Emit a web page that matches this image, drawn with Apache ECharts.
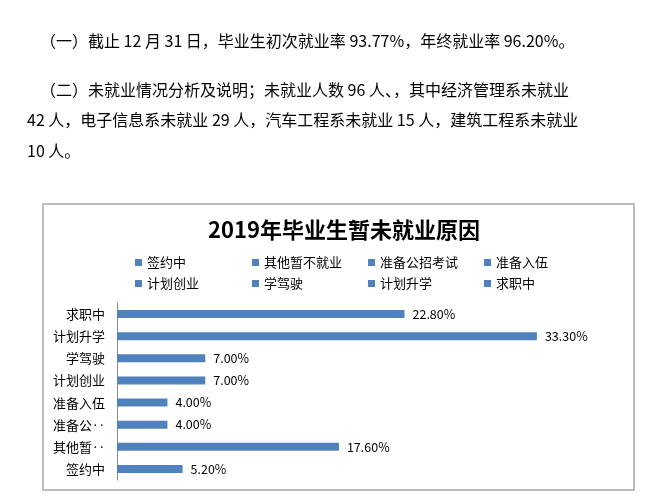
<!DOCTYPE html>
<html>
<head>
<meta charset="utf-8">
<script src="https://cdn.jsdelivr.net/npm/echarts@6/dist/echarts.min.js"></script>
<style>
  html, body { margin: 0; padding: 0; background: #fff; }
  #wrap { position: relative; width: 652px; height: 501px; overflow: hidden; }
  #chart { position: absolute; left: 0; top: 0; width: 652px; height: 501px; }
  .p { position: absolute; white-space: nowrap; font-family: "Noto Sans CJK SC", sans-serif; font-size: 16px; line-height: 20px; color: #000; }
</style>
</head>
<body>
<div id="wrap">
  <div id="chart"></div>
  <div class="p" style="left:40px; top:30px;">（一）截止 12 月 31 日，毕业生初次就业率 93.77%，年终就业率 96.20%。</div>
  <div class="p" style="left:40px; top:79px;">（二）未就业情况分析及说明；未就业人数 96 人、，其中经济管理系未就业</div>
  <div class="p" style="left:27px; top:109px;">42 人，电子信息系未就业 29 人，汽车工程系未就业 15 人，建筑工程系未就业</div>
  <div class="p" style="left:27px; top:140px;">10 人。</div>
</div>
<script>
const titleText = '2019年毕业生暂未就业原因';
const categories = ['签约中', '其他暂不就业', '准备公招考试', '准备入伍', '计划创业', '学驾驶', '计划升学', '求职中'];
const values = [5.2, 17.6, 4.0, 4.0, 7.0, 7.0, 33.3, 22.8];

const barColor = '#4F81BD';
const font = '"Noto Sans CJK SC", sans-serif';

const series = categories.map((name, i) => ({
  name: name,
  type: 'bar',
  stack: 'all',
  barWidth: 8,
  itemStyle: { color: barColor },
  label: {
    show: true,
    position: 'right',
    distance: 8,
    color: '#000',
    fontSize: 12.5,
    fontFamily: font,
    formatter: p => Number(p.value).toFixed(2) + '%'
  },
  data: values.map((v, j) => (j === i ? v : '-'))
}));

// four legend columns, two rows each
const colLeft = [130, 247, 363, 479];
const legends = colLeft.map((x, c) => ({
  data: [categories[c], categories[c + 4]],
  orient: 'vertical',
  left: x,
  top: 251,
  itemWidth: 7,
  itemHeight: 7,
  itemGap: 8,
  icon: 'rect',
  selectedMode: false,
  textStyle: { fontFamily: font, fontSize: 13, color: '#000' }
}));

const chart = echarts.init(document.getElementById('chart'), null, { renderer: 'canvas' });
chart.setOption({
  animation: false,
  backgroundColor: 'transparent',
  title: {
    text: titleText,
    left: 339,
    textAlign: 'center',
    top: 214,
    textStyle: { fontFamily: font, fontSize: 22, fontWeight: 'bold', color: '#000' }
  },
  legend: legends,
  graphic: [{
    type: 'rect',
    shape: { x: 43, y: 204, width: 591, height: 286 },
    style: { fill: 'none', stroke: '#bdbdbd', lineWidth: 2 },
    z: -1
  }],
  grid: { left: 117, top: 303, width: 504.4, height: 177 },
  xAxis: {
    type: 'value',
    min: 0,
    max: 40,
    show: false
  },
  yAxis: {
    type: 'category',
    data: categories,
    axisLine: { show: true, lineStyle: { color: '#8c8c8c', width: 1 } },
    axisTick: { show: false },
    axisLabel: {
      color: '#000',
      fontSize: 13,
      fontFamily: font,
      margin: 12,
      formatter: name => (name.length > 4 ? name.slice(0, 3) + '‥' : name)
    }
  },
  series: series
});
</script>
</body>
</html>
